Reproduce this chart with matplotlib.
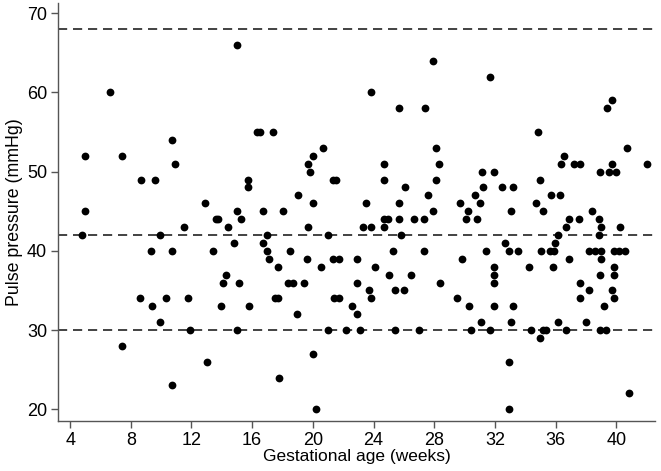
import matplotlib
matplotlib.use("Agg")
import matplotlib.pyplot as plt

# gestational age (weeks) and pulse pressure (mmHg)
gest_age = [4.8, 5.0, 5.0, 6.6, 7.4, 7.4, 8.7, 8.6, 9.6, 9.3, 9.4, 9.9, 9.9, 10.3,
            10.7, 10.9, 10.7, 10.7, 11.5, 11.8, 11.9, 12.9, 13.05, 13.4, 13.6, 13.75,
            13.95, 14.4, 14.1, 14.26, 14.83, 15.0, 15.0, 15.0, 15.1, 15.25, 15.7, 15.7,
            15.8, 16.3, 16.5, 16.7, 16.7, 16.96, 16.96, 17.1, 17.4, 17.5, 17.67, 17.67,
            17.8, 18.0, 18.35, 18.5, 18.7, 18.97, 19.0, 19.43, 19.6, 19.67, 19.67, 19.8,
            20.0, 20.0, 20.0, 20.2, 20.57, 20.7, 21.0, 21.0, 21.3, 21.3, 21.5, 21.4,
            21.7, 21.7, 22.2, 22.6, 22.9, 22.9, 22.9, 23.1, 23.28, 23.5, 23.7, 23.85,
            23.85, 23.85, 24.07, 24.7, 24.7, 24.7, 24.7, 24.98, 25.0, 25.3, 25.4, 25.4,
            25.7, 25.7, 25.7, 25.84, 26.0, 26.1, 26.5, 26.7, 27.0, 27.3, 27.3, 27.4,
            27.6, 27.9, 27.95, 28.1, 28.1, 28.3, 28.4, 29.5, 29.7, 29.86, 30.1, 30.25,
            30.3, 30.4, 30.7, 30.8, 31.0, 31.1, 31.15, 31.2, 31.4, 31.7, 31.7, 31.96,
            31.96, 31.96, 31.96, 31.96, 32.5, 32.64, 32.9, 32.9, 32.95, 33.07, 33.07,
            33.2, 33.2, 33.5, 34.26, 34.36, 34.7, 34.83, 35.0, 35.0, 35.07, 35.2, 35.2,
            35.4, 35.65, 35.67, 35.8, 35.9, 35.95, 36.13, 36.13, 36.3, 36.38, 36.55,
            36.7, 36.7, 36.86, 36.86, 37.24, 37.57, 37.6, 37.6, 37.6, 37.98, 38.2, 38.2,
            38.4, 38.6, 38.85, 38.85, 38.96, 38.98, 38.98, 38.98, 38.96, 38.96, 39.2,
            39.3, 39.4, 39.5, 39.7, 39.7, 39.7, 39.86, 39.86, 39.86, 39.86, 40.0, 40.2,
            40.28, 40.57, 40.7, 40.86, 42.0]
pulse_pressure = [42, 52, 45, 60, 52, 28, 49, 34, 49, 40, 33, 42, 31, 34,
                  54, 51, 40, 23, 43, 34, 30, 46, 26, 40, 44, 44,
                  33, 43, 36, 37, 41, 66, 45, 30, 36, 44, 49, 48,
                  33, 55, 55, 45, 41, 42, 40, 39, 55, 34, 34, 38,
                  24, 45, 36, 40, 36, 32, 47, 36, 39, 51, 43, 50,
                  52, 46, 27, 20, 38, 53, 42, 30, 49, 39, 49, 34,
                  39, 34, 30, 33, 39, 36, 32, 30, 43, 46, 35, 60,
                  43, 34, 38, 51, 49, 44, 43, 44, 37, 40, 35, 30,
                  58, 46, 44, 42, 35, 48, 37, 44, 30, 44, 40, 58,
                  47, 64, 45, 53, 49, 51, 36, 34, 46, 39, 44, 45,
                  33, 30, 47, 44, 46, 31, 50, 48, 40, 62, 30, 50,
                  38, 37, 36, 33, 48, 41, 26, 20, 40, 45, 31,
                  48, 33, 40, 38, 30, 46, 55, 49, 29, 40, 45, 30,
                  30, 40, 47, 38, 40, 41, 42, 31, 47, 51, 52,
                  43, 30, 44, 39, 51, 44, 51, 36, 34, 31, 40, 35,
                  45, 40, 44, 42, 50, 43, 40, 39, 37, 30, 33,
                  30, 58, 50, 59, 51, 35, 40, 38, 37, 34, 50, 40,
                  43, 40, 53, 22, 51]
ref_lines = [68, 42, 30]
x_ticks = [4, 8, 12, 16, 20, 24, 28, 32, 36, 40]
y_ticks = [20, 30, 40, 50, 60, 70]

plt.rcParams['font.family'] = ['Liberation Sans', 'DejaVu Sans']

fig = plt.figure(figsize=(6.61, 4.71), dpi=100)
ax = fig.add_axes([0.088, 0.107, 0.903, 0.886])

for y in ref_lines:
    ax.axhline(y, color='#222222', lw=1.2, dashes=(5.5, 3.5), zorder=1)

ax.plot(gest_age, pulse_pressure, 'o', color='black', markersize=5.6,
        markeredgewidth=0, zorder=2)

ax.set_xlim(3.21, 42.56)
ax.set_ylim(18.56, 71.26)
ax.set_xticks(x_ticks)
ax.set_yticks(y_ticks)
ax.set_xlabel('Gestational age (weeks)', fontsize=12.5, labelpad=0)
ax.set_ylabel('Pulse pressure (mmHg)', fontsize=12.8, labelpad=3)

for side in ['top', 'right']:
    ax.spines[side].set_visible(False)
for side in ['left', 'bottom']:
    ax.spines[side].set_color('#555555')
    ax.spines[side].set_linewidth(1.0)
ax.tick_params(direction='out', length=5, width=1, color='#555555',
               labelsize=13, pad=3)

fig.savefig('out.png', dpi=100)
